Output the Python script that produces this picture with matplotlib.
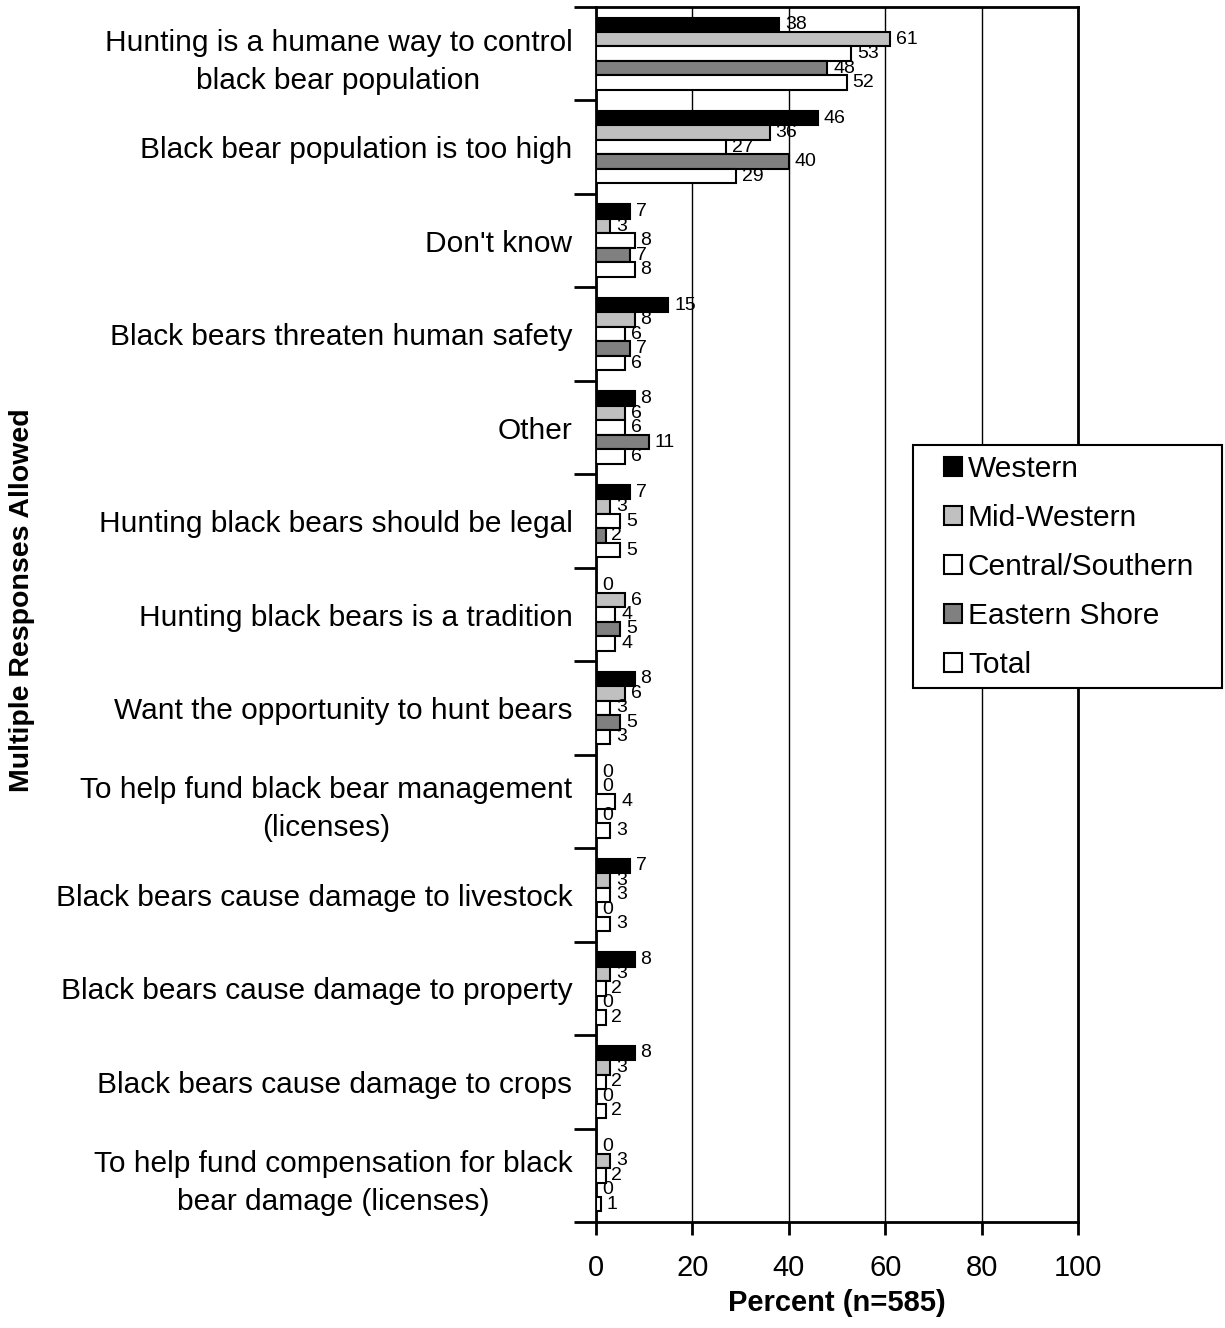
import numpy as np
import matplotlib
matplotlib.use('Agg')
import matplotlib.pyplot as plt
from matplotlib.patches import Rectangle

plt.rcParams['font.family'] = ['Liberation Sans', 'DejaVu Sans']

categories = [
    'Hunting is a humane way to control\nblack bear population',
    'Black bear population is too high',
    "Don't know",
    'Black bears threaten human safety',
    'Other',
    'Hunting black bears should be legal',
    'Hunting black bears is a tradition',
    'Want the opportunity to hunt bears',
    'To help fund black bear management\n(licenses)',
    'Black bears cause damage to livestock',
    'Black bears cause damage to property',
    'Black bears cause damage to crops',
    'To help fund compensation for black\nbear damage (licenses)',
]

series_names = ['Western', 'Mid-Western', 'Central/Southern', 'Eastern Shore', 'Total']
western = [38, 46, 7, 15, 8, 7, 0, 8, 0, 7, 8, 8, 0]
mid_western = [61, 36, 3, 8, 6, 3, 6, 6, 0, 3, 3, 3, 3]
central_southern = [53, 27, 8, 6, 6, 5, 4, 3, 4, 3, 2, 2, 2]
eastern_shore = [48, 40, 7, 7, 11, 2, 5, 5, 0, 0, 0, 0, 0]
total = [52, 29, 8, 6, 6, 5, 4, 3, 3, 3, 2, 2, 1]

series = [western, mid_western, central_southern, eastern_shore, total]
colors = ['#000000', '#C0C0C0', '#FFFFFF', '#808080', '#FFFFFF']

W, H = 1225, 1328
fig = plt.figure(figsize=(W / 100, H / 100), dpi=100)
ax = fig.add_axes([596 / W, 1 - 1222 / H, (1078 - 596) / W, (1222 - 7) / H])

n = len(categories)
centers = np.arange(n) + 0.5
h = 0.155
for k, (vals, col, name) in enumerate(zip(series, colors, series_names)):
    ypos = centers + (k - 2) * h
    ax.barh(ypos, vals, height=h, color=col, edgecolor='black', linewidth=1.5,
            label=name, zorder=3)
    for y, v in zip(ypos, vals):
        ax.text(v + 1.2, y, str(v), fontsize=14, va='center', ha='left', zorder=4)

ax.set_xlim(0, 100)
ax.set_ylim(n, 0)

ax.set_xticks([0, 20, 40, 60, 80, 100])
ax.tick_params(axis='x', labelsize=21, length=9, width=2, direction='out', pad=14)
ax.xaxis.grid(True, color='black', linewidth=1, zorder=0)

ax.set_yticks(np.arange(n + 1))
ax.set_yticklabels([])
ax.set_yticks(centers, minor=True)
ax.set_yticklabels(categories, minor=True, fontsize=21.5, linespacing=1.45,
                   multialignment='center')
ax.tick_params(axis='y', which='major', length=16, width=2, direction='out')
ax.tick_params(axis='y', which='minor', length=0, pad=17)

for s in ax.spines.values():
    s.set_linewidth(2)

fig.text(837 / W, 1 - 1303 / H, 'Percent (n=585)', fontsize=21, fontweight='bold',
         ha='center', va='center')
fig.text(22 / W, 1 - 600 / H, 'Multiple Responses Allowed', rotation=90,
         fontsize=20.5, fontweight='bold', ha='center', va='center')

# legend box drawn separately (wider horizontal padding than matplotlib gives)
box = Rectangle((913 / W, 1 - 688 / H), (1222 - 913) / W, (688 - 445) / H,
                transform=fig.transFigure, facecolor='white', edgecolor='black',
                linewidth=1.5, zorder=1)
fig.patches.append(box)

leg = fig.legend(loc='upper left', bbox_to_anchor=(944 / W, 1 - 455 / H), fontsize=21.5,
                 frameon=False, borderaxespad=0, borderpad=0, handlelength=0.6,
                 handleheight=0.6, handletextpad=0.2, labelspacing=0.7)

fig.savefig('out.png', dpi=100)
